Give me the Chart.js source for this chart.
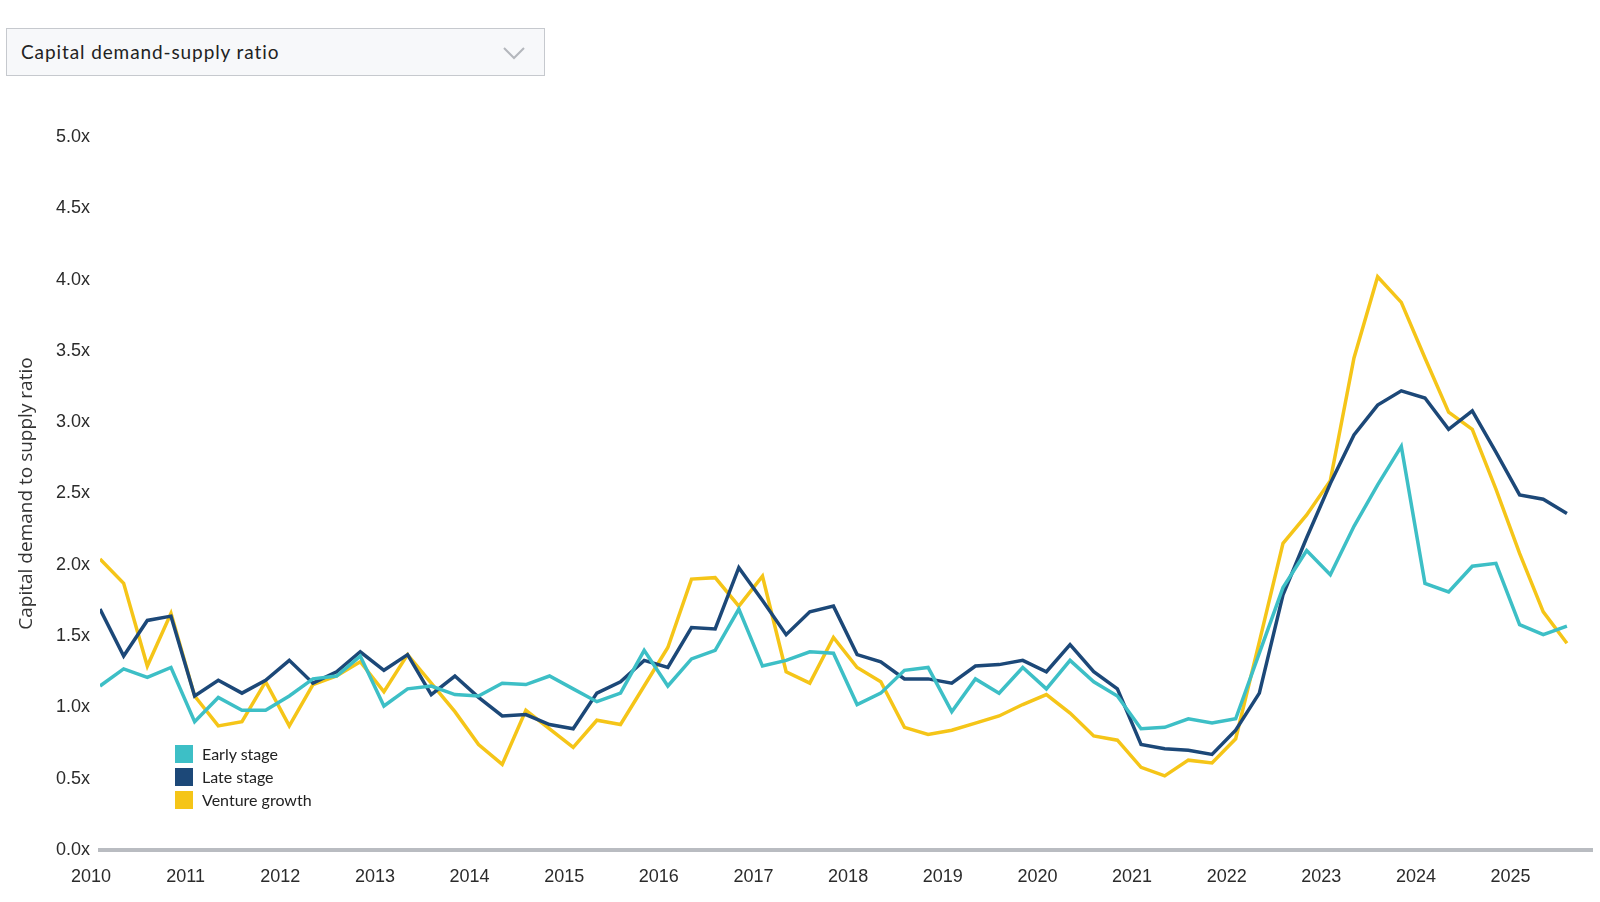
<!DOCTYPE html>
<html>
<head>
<meta charset="utf-8">
<script src="https://cdn.jsdelivr.net/npm/chart.js@4.4.1/dist/chart.umd.min.js"></script>
<style>
  html, body { margin:0; padding:0; background:#ffffff; }
  #wrap { position:relative; width:1600px; height:902px; overflow:hidden; }
  #chart { position:absolute; left:0; top:0; }
  .select {
    position:absolute; left:6px; top:28px;
    border:1.5px solid #c6c9ce; background:#f7f8fa;
    font-family:Lato, "Open Sans", sans-serif; font-size:19px; color:#222;
    letter-spacing:0.9px;
    line-height:45px; padding-left:14px; box-sizing:border-box; width:539px; height:48px;
  }
  .select svg { position:absolute; right:19px; top:17px; }
  .legend {
    position:absolute; left:175px; top:742px;
    font-family:Lato, "Open Sans", sans-serif; font-size:16px; color:#222;
  }
  .legend .row { height:23px; display:flex; align-items:center; }
  .legend .sw { width:18px; height:18px; margin-right:9px; }
</style>
</head>
<body>
<div id="wrap">
  <canvas id="chart" width="1600" height="902"></canvas>
  <div class="select">Capital demand-supply ratio
    <svg width="22" height="14" viewBox="0 0 22 14"><polyline points="1,2 11,12 21,2" fill="none" stroke="#b4b7bc" stroke-width="2"/></svg>
  </div>
  <div class="legend" id="legend"></div>
</div>
<script>

/* ===========================
   DATA (quarterly, 2010 Q1 - 2025 Q3)
=========================== */

const years = ["2010","2011","2012","2013","2014","2015","2016","2017",
               "2018","2019","2020","2021","2022","2023","2024","2025"];

const earlyStage = [
  1.15,1.27,1.21,1.28, 0.90,1.07,0.98,0.98, 1.08,1.20,1.22,1.36,
  1.01,1.13,1.15,1.09, 1.08,1.17,1.16,1.22, 1.13,1.04,1.10,1.40,
  1.15,1.34,1.40,1.69, 1.29,1.33,1.39,1.38, 1.02,1.10,1.26,1.28,
  0.97,1.20,1.10,1.28, 1.13,1.33,1.18,1.08, 0.85,0.86,0.92,0.89,
  0.92,1.38,1.84,2.10, 1.93,2.27,2.56,2.83, 1.87,1.81,1.99,2.01,
  1.58,1.51,1.57
];

const lateStage = [
  1.69,1.36,1.61,1.64, 1.08,1.19,1.10,1.19, 1.33,1.17,1.25,1.39,
  1.26,1.37,1.09,1.22, 1.07,0.94,0.95,0.88, 0.85,1.10,1.18,1.33,
  1.28,1.56,1.55,1.98, 1.75,1.51,1.67,1.71, 1.37,1.32,1.20,1.20,
  1.17,1.29,1.30,1.33, 1.25,1.44,1.25,1.13, 0.74,0.71,0.70,0.67,
  0.84,1.10,1.79,2.19, 2.57,2.91,3.12,3.22, 3.17,2.95,3.08,2.79,
  2.49,2.46,2.36
];

const ventureGrowth = [
  2.04,1.87,1.29,1.66, 1.08,0.87,0.90,1.18, 0.87,1.16,1.22,1.32,
  1.11,1.37,1.17,0.97, 0.74,0.60,0.98,0.85, 0.72,0.91,0.88,1.15,
  1.42,1.90,1.91,1.71, 1.92,1.25,1.17,1.49, 1.28,1.18,0.86,0.81,
  0.84,0.89,0.94,1.02, 1.09,0.96,0.80,0.77, 0.58,0.52,0.63,0.61,
  0.78,1.46,2.15,2.35, 2.59,3.45,4.02,3.84, 3.45,3.07,2.95,2.53,
  2.08,1.67,1.45
];

const yTicks = [0,0.5,1,1.5,2,2.5,3,3.5,4,4.5,5];

/* ===========================
   COLORS
=========================== */

const TEAL = "#3dbfc6";
const NAVY = "#1c4878";
const GOLD = "#f5c518";

function toPoints(arr){
    return arr.map((v,i)=>({x:i,y:v}));
}

const series = [
    {label:"Early stage", data:earlyStage, color:TEAL},
    {label:"Late stage", data:lateStage, color:NAVY},
    {label:"Venture growth", data:ventureGrowth, color:GOLD}
];

/* ===========================
   LEGEND (html)
=========================== */

const legend = document.getElementById("legend");
series.forEach(s=>{
    const row = document.createElement("div");
    row.className = "row";
    row.innerHTML = '<div class="sw" style="background:'+s.color+'"></div><span>'+s.label+'</span>';
    legend.appendChild(row);
});

/* ===========================
   CHART
=========================== */

const tickFont = {family:"'Liberation Sans', Arial, sans-serif", size:18};

new Chart(document.getElementById("chart"), {
    type:"line",
    data:{
        datasets: series.map(s=>({
            label:s.label,
            data:toPoints(s.data),
            borderColor:s.color,
            backgroundColor:s.color,
            borderWidth:3.5,
            pointRadius:0,
            tension:0,
            fill:false
        }))
    },
    options:{
        responsive:false,
        animation:false,
        layout:{ padding:{top:137, right:8, bottom:0, left:0} },
        plugins:{
            legend:{display:false},
            tooltip:{enabled:false}
        },
        scales:{
            x:{
                type:"linear",
                min:0,
                max:63.06,
                grid:{display:false, drawTicks:false},
                border:{display:true, color:"#b9bcc1", width:4},
                afterBuildTicks:(scale)=>{
                    scale.ticks = years.map((y,i)=>({value:i*4}));
                },
                afterFit:(scale)=>{ scale.height = 52; },
                ticks:{
                    color:"#2b2b2b",
                    font:tickFont,
                    padding:16,
                    labelOffset:-9,
                    maxRotation:0,
                    autoSkip:false,
                    callback:(v)=>years[Math.round(v/4)]
                }
            },
            y:{
                min:0,
                max:5,
                grid:{display:false, drawTicks:false},
                border:{display:false},
                afterBuildTicks:(scale)=>{
                    scale.ticks = yTicks.map(v=>({value:v}));
                },
                afterFit:(scale)=>{ scale.width = 100; },
                ticks:{
                    color:"#2b2b2b",
                    font:tickFont,
                    padding:10,
                    callback:(v)=>v.toFixed(1)+"x"
                },
                title:{
                    display:true,
                    text:"Capital demand to supply ratio",
                    color:"#333",
                    font:{family:"'Open Sans', Lato, sans-serif", size:19},
                    padding:{top:15, bottom:0}
                }
            }
        }
    }
});

</script>
</body>
</html>
